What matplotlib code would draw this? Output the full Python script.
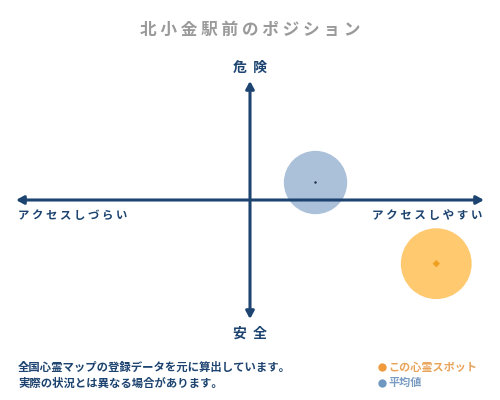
import matplotlib
matplotlib.use("Agg")
import matplotlib.pyplot as plt
from matplotlib.lines import Line2D

plt.rcParams["font.family"] = ["Noto Sans CJK JP", "DejaVu Sans"]

TITLE = "北小金駅前のポジション"
X_LEFT_LABEL = "アクセスしづらい"
X_RIGHT_LABEL = "アクセスしやすい"
Y_TOP_LABEL = "危険"
Y_BOTTOM_LABEL = "安全"
NOTE_LINES = ["全国心霊マップの登録データを元に算出しています。", "実際の状況とは異なる場合があります。"]

# position on the access (x) / danger (y) plane, range -1..1
series_names = ["この心霊スポット", "平均値"]
series_x = [0.796, 0.28]
series_y = [-0.535, 0.147]

NAVY = "#1d4470"
CIRCLE_COLORS = ["#fec96f", "#abc0d9"]
DOT_COLORS = ["#f0a020", "#1a2a40"]
LEGEND_COLORS = ["#f09a3e", "#6f98c0"]
LEGEND_TEXT = ["#e9a45a", "#7a9cc2"]
CIRCLE_SIZES = [2600, 2080]


def spaced(s, sep=" "):
    return sep.join(s)


fig = plt.figure(figsize=(5, 4), dpi=100)
ax = fig.add_axes([0.032, 0.2025, 0.936, 0.595])
ax.set_xlim(-1, 1)
ax.set_ylim(-1, 1)
ax.axis("off")

for i in range(len(series_names)):
    ax.scatter(series_x[i], series_y[i], s=CIRCLE_SIZES[i], color=CIRCLE_COLORS[i],
               edgecolors="none", zorder=1)

arrow = dict(arrowstyle="<|-|>,head_length=0.55,head_width=0.3", color=NAVY, lw=2.2,
             shrinkA=0, shrinkB=0, mutation_scale=8)
ax.annotate("", xy=(1, 0), xytext=(-1, 0), arrowprops=arrow, zorder=2)
ax.annotate("", xy=(0, 1), xytext=(0, -1), arrowprops=arrow, zorder=2)

ax.scatter(series_x[0], series_y[0], s=14, marker="D", color=DOT_COLORS[0], zorder=3, edgecolors="none")
ax.scatter(series_x[1], series_y[1], s=3, color=DOT_COLORS[1], zorder=3, edgecolors="none")

fig.text(0.5, 0.925, spaced(TITLE), ha="center", va="center", fontsize=12,
         color="#9a9a9a", fontweight="bold")
fig.text(0.5, 0.83, spaced(Y_TOP_LABEL, "  "), ha="center", va="center", fontsize=10,
         color=NAVY, fontweight="bold")
fig.text(0.5, 0.165, spaced(Y_BOTTOM_LABEL, "  "), ha="center", va="center", fontsize=10,
         color=NAVY, fontweight="bold")
fig.text(0.036, 0.46, spaced(X_LEFT_LABEL), ha="left", va="center", fontsize=8.2,
         color=NAVY, fontweight="bold")
fig.text(0.964, 0.46, spaced(X_RIGHT_LABEL), ha="right", va="center", fontsize=8.3,
         color=NAVY, fontweight="bold")

fig.text(0.036, 0.0825, NOTE_LINES[0], ha="left", va="center", fontsize=8.2,
         color=NAVY, fontweight="bold")
fig.text(0.036, 0.0425, NOTE_LINES[1], ha="left", va="center", fontsize=8.2,
         color=NAVY, fontweight="bold")

handles = [Line2D([], [], linestyle="none", marker="o", markersize=6,
                  markerfacecolor=c, markeredgecolor="none") for c in LEGEND_COLORS]
leg = fig.legend(handles, series_names, loc="center left", bbox_to_anchor=(0.757, 0.0625),
                 frameon=False, fontsize=8, handlelength=0.6, handletextpad=0.3,
                 labelspacing=0.25, borderaxespad=0, borderpad=0)
for t, c in zip(leg.get_texts(), LEGEND_TEXT):
    t.set_color(c)
    t.set_fontweight("bold")

fig.savefig("out.png", dpi=100, facecolor="white")
